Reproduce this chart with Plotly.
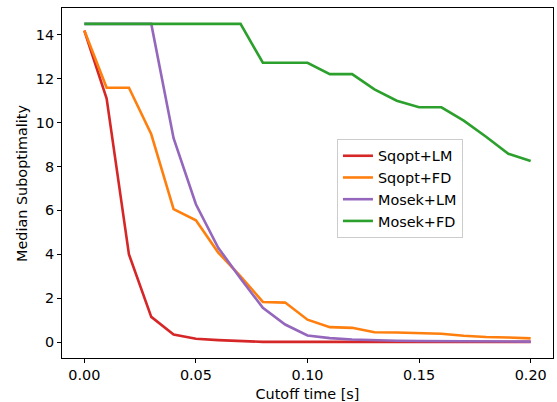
import plotly.graph_objects as go

cutoff = [0.00, 0.01, 0.02, 0.03, 0.04, 0.05, 0.06, 0.07, 0.08, 0.09, 0.10,
          0.11, 0.12, 0.13, 0.14, 0.15, 0.16, 0.17, 0.18, 0.19, 0.20]

sqopt_lm = [14.2, 11.1, 4.0, 1.15, 0.35, 0.15, 0.09, 0.05, 0.01, 0.01, 0.01,
            0.01, 0.01, 0.01, 0.01, 0.01, 0.01, 0.01, 0.01, 0.01, 0.01]
sqopt_fd = [14.2, 11.59, 11.59, 9.47, 6.06, 5.55, 4.08, 3.0, 1.83, 1.8, 1.02,
            0.68, 0.65, 0.45, 0.44, 0.42, 0.38, 0.29, 0.23, 0.21, 0.17]
mosek_lm = [14.5, 14.5, 14.5, 14.5, 9.29, 6.28, 4.3, 2.9, 1.56, 0.8, 0.3,
            0.18, 0.12, 0.08, 0.06, 0.05, 0.04, 0.03, 0.03, 0.02, 0.02]
mosek_fd = [14.5, 14.5, 14.5, 14.5, 14.5, 14.5, 14.5, 14.5, 12.73, 12.73, 12.73,
            12.21, 12.21, 11.52, 11.0, 10.7, 10.7, 10.09, 9.36, 8.58, 8.25]

series = [
    ("Sqopt+LM", sqopt_lm, "#d62728"),
    ("Sqopt+FD", sqopt_fd, "#ff7f0e"),
    ("Mosek+LM", mosek_lm, "#9467bd"),
    ("Mosek+FD", mosek_fd, "#2ca02c"),
]

x_ticks = [0.00, 0.05, 0.10, 0.15, 0.20]
y_ticks = [0, 2, 4, 6, 8, 10, 12, 14]

fig = go.Figure()
for name, vals, color in series:
    fig.add_trace(go.Scatter(x=cutoff, y=vals, mode="lines", name=name,
                             line=dict(color=color, width=2.6)))

font = dict(family="DejaVu Sans", size=14.4, color="black")
axis_common = dict(showline=True, linecolor="black", linewidth=1, mirror=True,
                   ticks="outside", ticklen=4, tickcolor="black", showgrid=False,
                   zeroline=False, tickfont=font, automargin=False)

fig.update_layout(
    width=557, height=402,
    margin=dict(l=62, r=4, t=8, b=44),
    paper_bgcolor="white", plot_bgcolor="white",
    font=font,
    xaxis=dict(range=[-0.01, 0.21], tickvals=x_ticks,
               ticktext=[f"{v:.2f}" for v in x_ticks],
               title=dict(text="Cutoff time [s]", font=font),
               **axis_common),
    yaxis=dict(range=[-0.725, 15.225], tickvals=y_ticks, **axis_common),
    legend=dict(x=0.56, y=0.626, xanchor="left", yanchor="top",
                bgcolor="white", bordercolor="#cccccc", borderwidth=1,
                font=dict(family="DejaVu Sans", size=14.4, color="black")),
    annotations=[dict(text="Median Suboptimality", textangle=-90,
                      xref="paper", yref="paper", x=-0.0815, y=0.5,
                      xanchor="center", yanchor="middle", showarrow=False,
                      font=font)],
)

fig.write_html("out.html", config={"displayModeBar": False},
               post_script="document.body.style.margin='0';")
